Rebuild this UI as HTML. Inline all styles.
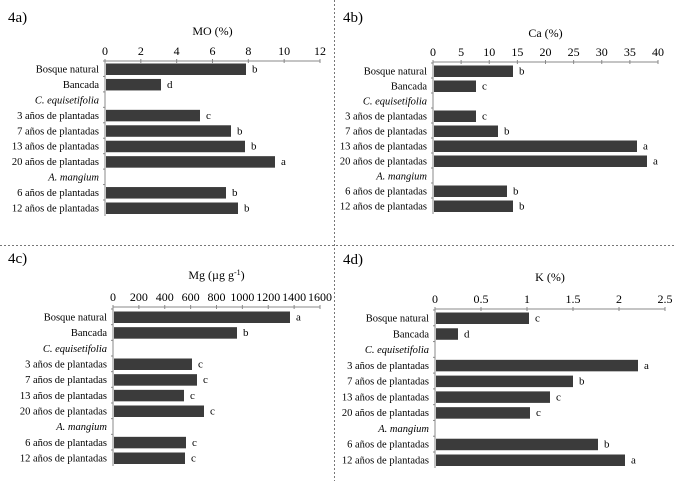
<!DOCTYPE html>
<html><head><meta charset="utf-8"><style>
html,body{margin:0;padding:0;background:#fff;}
svg{display:block;font-family:"Liberation Serif",serif;}
</style></head><body>
<svg width="675" height="481" viewBox="0 0 675 481" xmlns="http://www.w3.org/2000/svg">
<line x1="334.5" y1="0" x2="334.5" y2="481" stroke="#777" stroke-dasharray="2,2"/>
<line x1="0" y1="245.5" x2="675" y2="245.5" stroke="#777" stroke-dasharray="2,2"/>
</svg>
<script>
const svg=document.querySelector('svg');const NS='http://www.w3.org/2000/svg';
function el(t,a,txt){const e=document.createElementNS(NS,t);for(const k in a)e.setAttribute(k,a[k]);if(txt!==undefined)e.textContent=txt;svg.appendChild(e);return e;}
const labels=["Bosque natural","Bancada","C. equisetifolia","3 años de plantadas","7 años de plantadas","13 años de plantadas","20 años de plantadas","A. mangium","6 años de plantadas","12 años de plantadas"];
function panel(p){
 el('text',{x:p.lx,y:p.ly,'font-size':15},p.name);
 const t=el('text',{x:(p.x0+p.x1)/2,y:p.ty,'font-size':12,'text-anchor':'middle'},p.title);
 if(p.sup){const s=document.createElementNS(NS,'tspan');s.setAttribute('font-size','8');s.setAttribute('dy','-4');s.textContent='-1';t.appendChild(s);
  const s2=document.createElementNS(NS,'tspan');s2.setAttribute('dy','4');s2.textContent=')';t.appendChild(s2);}
 el('line',{x1:p.x0,y1:p.ay,x2:p.x1,y2:p.ay,stroke:'#888'});
 el('line',{x1:p.x0,y1:p.ay,x2:p.x0,y2:p.rows[9]+8,stroke:'#888'});
 p.ticks.forEach((t,i)=>{const x=p.x0+(p.x1-p.x0)*i/(p.ticks.length-1);
  el('line',{x1:x,y1:p.ay-2,x2:x,y2:p.ay+2,stroke:'#888'});
  el('text',{x:x,y:p.ay-6,'font-size':12,'text-anchor':'middle'},t);});
 for(let i=0;i<10;i++){const y=p.rows[i];
  el('line',{x1:p.x0-2,y1:y-8,x2:p.x0,y2:y-8,stroke:'#888'});
  const it=(i==2||i==7);
  el('text',{x:p.x0-6,y:y+3.5,'font-size':10.5,'text-anchor':'end','font-style':it?'italic':'normal'},labels[i]);
  if(p.bars[i]){el('rect',{x:p.x0+1,y:y-5.5,width:p.bars[i]-p.x0-1,height:11.5,fill:'#3b3b3b'});
   el('text',{x:p.bars[i]+6,y:y+3.5,'font-size':11},p.let[i]);}
 }
}
function rows(a,b){const r=[];for(let i=0;i<10;i++)r.push(a+(b-a)*i/9);return r;}
panel({name:'4a)',lx:8,ly:22,title:'MO (%)',ty:35,x0:105,x1:320,ay:61,ticks:[0,2,4,6,8,10,12],rows:rows(69,208),
 bars:[246,161,0,200,231,245,275,0,226,238],let:['b','d','','c','b','b','a','','b','b']});
panel({name:'4b)',lx:343,ly:22,title:'Ca (%)',ty:37,x0:433,x1:658,ay:62,ticks:[0,5,10,15,20,25,30,35,40],rows:rows(71,206),
 bars:[513,476,0,476,498,637,647,0,507,513],let:['b','c','','c','b','a','a','','b','b']});
panel({name:'4c)',lx:8,ly:263,title:'Mg (µg g',sup:true,ty:279,x0:113,x1:320,ay:307,ticks:[0,200,400,600,800,1000,1200,1400,1600],rows:rows(317,458),
 bars:[290,237,0,192,197,184,204,0,186,185],let:['a','b','','c','c','c','c','','c','c']});
panel({name:'4d)',lx:343,ly:264,title:'K (%)',ty:281,x0:435,x1:665,ay:309,ticks:[0,0.5,1,1.5,2,2.5],rows:rows(318,460),
 bars:[529,458,0,638,573,550,530,0,598,625],let:['c','d','','a','b','c','c','','b','a']});
</script>
</body></html>
